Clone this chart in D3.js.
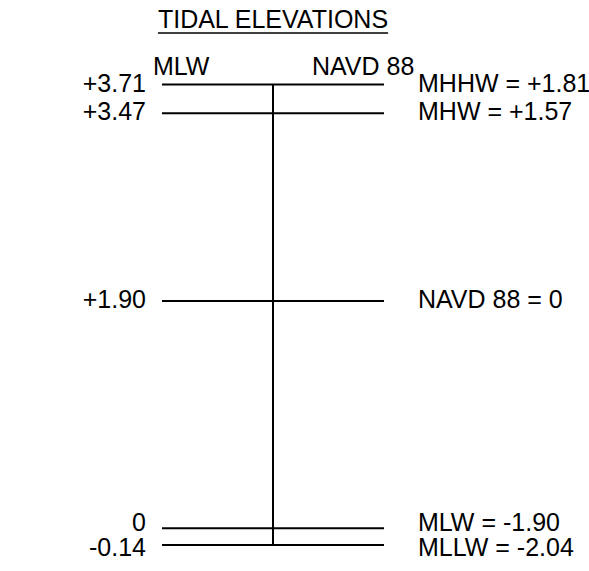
<!DOCTYPE html>
<html>
<head>
<meta charset="utf-8">
<script src="https://cdn.jsdelivr.net/npm/d3@7"></script>
<style>
  body { margin: 0; background: #fff; }
  text { font-family: "Liberation Sans", Arial, sans-serif; font-size: 25px; fill: #000; }
</style>
</head>
<body>
<div id="chart"></div>
<script>
const width = 589;
const height = 571;

// elevations referenced to MLW, with the NAVD 88 datum labels
const mlwValues = [3.71, 3.47, 1.90, 0, -0.14];
const mlwLabels = ['+3.71', '+3.47', '+1.90', '0', '-0.14'];
const navdLabels = ['MHHW = +1.81', 'MHW = +1.57', 'NAVD 88 = 0', 'MLW = -1.90', 'MLLW = -2.04'];

const lineLeft = 162;
const lineRight = 384;
const axisX = (lineLeft + lineRight) / 2;
const labelGap = 25; // min spacing between stacked labels

const y = d3.scaleLinear()
  .domain([d3.min(mlwValues), d3.max(mlwValues)])
  .range([545, 84.5]);

const svg = d3.select('#chart')
  .append('svg')
  .attr('width', width)
  .attr('height', height);

// title with underline
const title = svg.append('text')
  .attr('x', axisX)
  .attr('y', 28)
  .attr('text-anchor', 'middle')
  .text('TIDAL ELEVATIONS');
const titleW = title.node().getComputedTextLength();
svg.append('line')
  .attr('x1', axisX - titleW / 2)
  .attr('x2', axisX + titleW / 2)
  .attr('y1', 33)
  .attr('y2', 33)
  .attr('stroke', '#000')
  .attr('stroke-width', 1.6);

svg.append('text').attr('x', 153).attr('y', 75).text('MLW');
svg.append('text').attr('x', 312).attr('y', 75).text('NAVD 88');

const rows = mlwValues.map((v, i) => ({ v, left: mlwLabels[i], right: navdLabels[i], ly: y(v) + 7 }));

// push apart labels that sit too close together
for (let i = 1; i < rows.length; i++) {
  const gap = rows[i].ly - rows[i - 1].ly;
  if (gap < labelGap) {
    const d = (labelGap - gap) / 2;
    rows[i - 1].ly -= d;
    rows[i].ly += d;
  }
}

svg.append('line')
  .attr('x1', axisX)
  .attr('x2', axisX)
  .attr('y1', y(d3.max(mlwValues)))
  .attr('y2', y(d3.min(mlwValues)))
  .attr('stroke', '#000')
  .attr('stroke-width', 2);

svg.append('g')
  .selectAll('line')
  .data(rows)
  .join('line')
  .attr('x1', lineLeft)
  .attr('x2', lineRight)
  .attr('y1', d => y(d.v))
  .attr('y2', d => y(d.v))
  .attr('stroke', '#000')
  .attr('stroke-width', 2);

svg.append('g')
  .selectAll('text')
  .data(rows)
  .join('text')
  .attr('x', 146)
  .attr('y', d => d.ly)
  .attr('text-anchor', 'end')
  .text(d => d.left);

svg.append('g')
  .selectAll('text')
  .data(rows)
  .join('text')
  .attr('x', 418)
  .attr('y', d => d.ly)
  .text(d => d.right);
</script>
</body>
</html>
